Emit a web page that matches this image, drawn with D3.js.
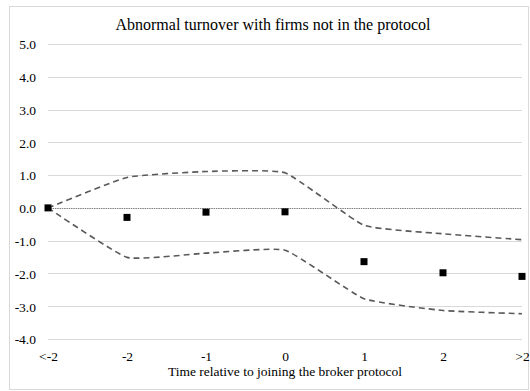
<!DOCTYPE html>
<html>
<head>
<meta charset="utf-8">
<script src="https://cdn.jsdelivr.net/npm/d3@7/dist/d3.min.js"></script>
<style>
  html, body { margin: 0; padding: 0; background: #fff; }
</style>
</head>
<body>
<svg id="chart" width="530" height="391"></svg>
<script>
// Event-time categories and estimates
const categories = ["<-2", "-2", "-1", "0", "1", "2", ">2"];
const estimate   = [0.0, -0.29, -0.13, -0.12, -1.64, -1.98, -2.09];
const upperBound = [0.0, 0.93, 1.11, 1.07, -0.53, -0.79, -0.97];
const lowerBound = [0.0, -1.51, -1.38, -1.29, -2.77, -3.13, -3.23];
const yTicks     = [5, 4, 3, 2, 1, 0, -1, -2, -3, -4];

const FONT = "Liberation Serif";
const svg = d3.select("#chart");
const W = 530, H = 391;

// outer chart frame
svg.append("rect")
  .attr("x", 9.5).attr("y", 6.5)
  .attr("width", W - 11).attr("height", H - 8)
  .attr("fill", "#fff").attr("stroke", "#d9d9d9").attr("stroke-width", 1);

const x = d3.scalePoint().domain(categories).range([48, 522]).padding(0);
const y = d3.scaleLinear().domain([-4, 5]).range([339, 44]);

// horizontal gridlines
svg.append("g").selectAll("line")
  .data(yTicks.filter(d => d !== 0))
  .join("line")
  .attr("x1", 48).attr("x2", 522)
  .attr("y1", d => Math.round(y(d)) + 0.5).attr("y2", d => Math.round(y(d)) + 0.5)
  .attr("stroke", "#d9d9d9").attr("stroke-width", 1);

// y-axis labels (plain hyphen for negatives)
const yAxis = d3.axisLeft(y).tickValues(yTicks)
  .tickFormat(d => d.toFixed(1))
  .tickSize(0).tickPadding(0);
const gy = svg.append("g").attr("transform", "translate(36,0)").call(yAxis);
gy.attr("font-family", FONT).attr("font-size", 13.5);
gy.select(".domain").remove();
gy.selectAll("text").attr("fill", "#000").attr("font-family", FONT).attr("dy", "0.36em");

// zero line
svg.append("line")
  .attr("x1", 48).attr("x2", 522)
  .attr("y1", Math.round(y(0)) + 0.5).attr("y2", Math.round(y(0)) + 0.5)
  .attr("stroke", "#7f7f7f").attr("stroke-width", 1)
  .attr("stroke-dasharray", "1.5,0.8");

// x-axis labels
const xAxis = d3.axisBottom(x).tickSize(0).tickPadding(0);
const gx = svg.append("g").attr("transform", "translate(0,361)").call(xAxis);
gx.attr("font-family", FONT).attr("font-size", 13.5);
gx.select(".domain").remove();
gx.selectAll("text").attr("fill", "#000").attr("font-family", FONT).attr("dy", 0).attr("y", 0);

// confidence bands
const line = d3.line()
  .x((d, i) => x(categories[i]))
  .y(d => y(d))
  .curve(d3.curveCardinal.tension(0.6));

[upperBound, lowerBound].forEach(series => {
  svg.append("path")
    .datum(series)
    .attr("d", line)
    .attr("fill", "none")
    .attr("stroke", "#595959")
    .attr("stroke-width", 1.6)
    .attr("stroke-dasharray", "6,4");
});

// point estimates
const s = 7;
svg.append("g").selectAll("rect")
  .data(estimate)
  .join("rect")
  .attr("x", (d, i) => x(categories[i]) - s / 2)
  .attr("y", d => y(d) - s / 2)
  .attr("width", s).attr("height", s)
  .attr("fill", "#000");

// titles
svg.append("text")
  .attr("x", 273).attr("y", 30)
  .attr("text-anchor", "middle")
  .attr("font-family", FONT)
  .attr("font-size", 16).attr("fill", "#000")
  .text("Abnormal turnover with firms not in the protocol");

svg.append("text")
  .attr("x", 285).attr("y", 376)
  .attr("text-anchor", "middle")
  .attr("font-family", FONT)
  .attr("font-size", 13.5).attr("fill", "#000")
  .text("Time relative to joining the broker protocol");
</script>
</body>
</html>
